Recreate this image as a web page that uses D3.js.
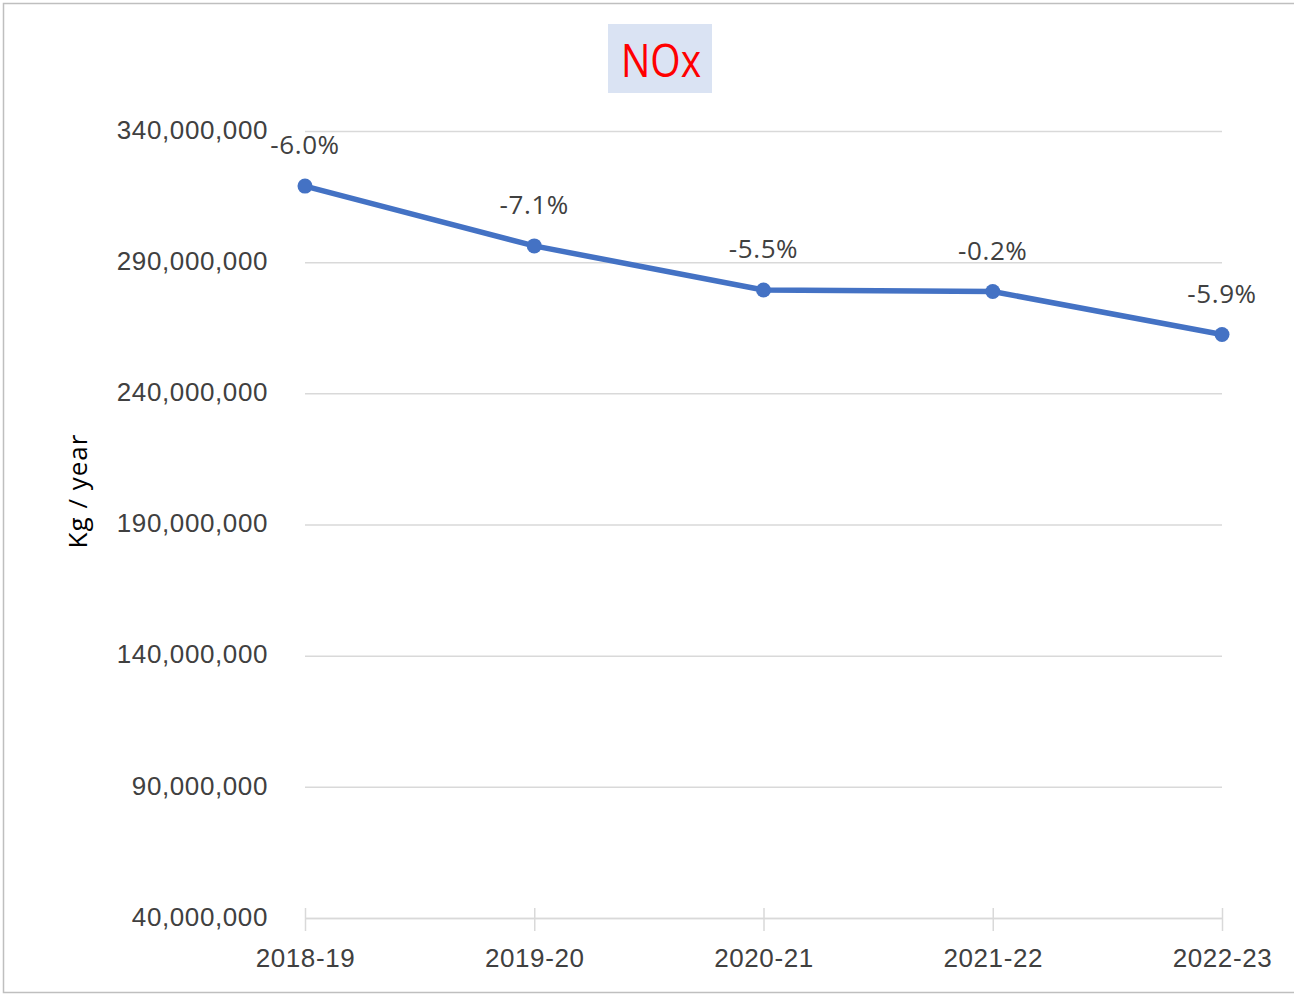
<!DOCTYPE html>
<html>
<head>
<meta charset="utf-8">
<script src="https://cdn.jsdelivr.net/npm/d3@7"></script>
<style>
  body { margin: 0; background: #fff; }
</style>
</head>
<body>
<div id="plot1"></div>
<script>
const years = ["2018-19", "2019-20", "2020-21", "2021-22", "2022-23"];
const emissions = [319000000, 296200000, 279400000, 278800000, 262400000];
const changes = ["-6.0%", "-7.1%", "-5.5%", "-0.2%", "-5.9%"];
const yTicks = [40000000, 90000000, 140000000, 190000000, 240000000, 290000000, 340000000];

const blue = "#4472c4";
const grid = "#d9d9d9";
const textColor = "#404040";

const width = 1294;
const height = 996;
const marginTop = 131;
const marginRight = 72;
const marginBottom = 78;
const marginLeft = 305;

const x = d3.scalePoint()
  .domain(years)
  .range([marginLeft, width - marginRight]);

const y = d3.scaleLinear()
  .domain([40000000, 340000000])
  .range([height - marginBottom, marginTop]);

const svg = d3.create("svg")
  .attr("width", width)
  .attr("height", height)
  .style("font-family", "'Open Sans', 'Noto Sans', sans-serif");

// chart frame
svg.append("rect")
  .attr("x", 3.5).attr("y", 3.5)
  .attr("width", width + 10).attr("height", 989)
  .attr("fill", "#fff")
  .attr("stroke", "#bfbfbf")
  .attr("stroke-width", 1.5);

// title
const title = svg.append("g");
title.append("rect")
  .attr("x", 608).attr("y", 24)
  .attr("width", 104).attr("height", 69)
  .attr("fill", "#dae3f3");
title.append("text")
  .attr("transform", "translate(661,61) scale(1,1.15)")
  .attr("text-anchor", "middle")
  .attr("dy", "0.36em")
  .attr("fill", "#ff0000")
  .style("font-size", "39px")
  .text("NOx");

// gridlines + y labels
const yAxis = svg.append("g")
  .attr("transform", `translate(${marginLeft},0)`)
  .call(d3.axisLeft(y)
    .tickValues(yTicks)
    .tickSize(-(width - marginLeft - marginRight))
    .tickPadding(37)
    .tickFormat(d3.format(",")));
yAxis.select(".domain").remove();
yAxis.selectAll(".tick line").attr("stroke", grid).attr("stroke-width", 1.5);
yAxis.selectAll(".tick text")
  .attr("fill", textColor)
  .style("font-size", "26px")
  .style("letter-spacing", "0.6px")
  .attr("dy", "0.28em");

// x axis
const xAxis = svg.append("g")
  .attr("transform", `translate(0,${height - marginBottom})`)
  .call(d3.axisBottom(x).tickSize(13).tickPadding(18).tickSizeOuter(0));
xAxis.select(".domain").attr("stroke", grid).attr("stroke-width", 1.5);
xAxis.selectAll(".tick line").attr("stroke", grid).attr("stroke-width", 1.5).attr("y1", -10).attr("y2", 13);
xAxis.selectAll(".tick text")
  .attr("fill", textColor)
  .style("font-size", "26px")
  .style("letter-spacing", "0.6px");

// y axis title
svg.append("text")
  .attr("transform", `translate(87,491) rotate(-90)`)
  .attr("text-anchor", "middle")
  .attr("fill", "#000")
  .style("font-size", "26px")
  .style("letter-spacing", "1px")
  .text("Kg / year");

// line
const line = d3.line((d, i) => x(years[i]), d => y(d));
svg.append("path")
  .attr("d", line(emissions))
  .attr("fill", "none")
  .attr("stroke", blue)
  .attr("stroke-width", 5.5)
  .attr("stroke-linejoin", "round");

svg.append("g")
  .selectAll("circle")
  .data(emissions)
  .join("circle")
  .attr("cx", (d, i) => x(years[i]))
  .attr("cy", d => y(d))
  .attr("r", 7.5)
  .attr("fill", blue);

// data labels
svg.append("g")
  .selectAll("text")
  .data(emissions)
  .join("text")
  .attr("x", (d, i) => x(years[i]))
  .attr("y", d => y(d) - 32)
  .attr("text-anchor", "middle")
  .attr("fill", textColor)
  .style("font-size", "26px")
  .style("letter-spacing", "0.6px")
  .text((d, i) => changes[i]);

document.querySelector("#plot1").append(svg.node());
</script>
</body>
</html>
